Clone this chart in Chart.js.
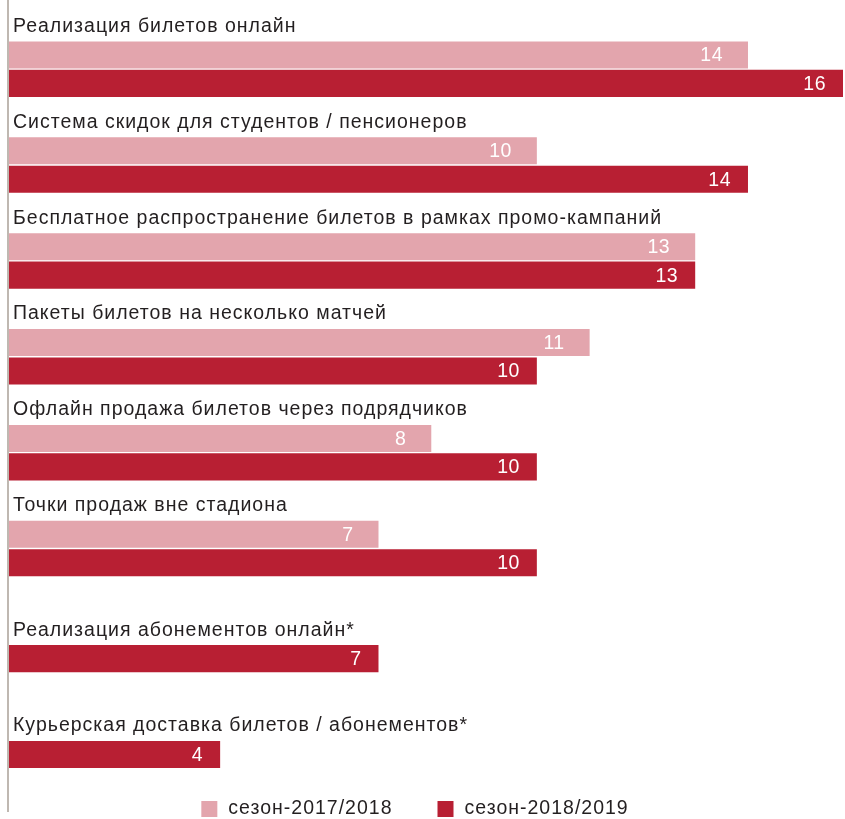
<!DOCTYPE html>
<html lang="ru">
<head>
<meta charset="utf-8">
<title>Способы продажи билетов</title>
<script src="https://cdn.jsdelivr.net/npm/chart.js@4.4.1/dist/chart.umd.min.js"></script>
<style>
    html, body { margin: 0; padding: 0; background: #fff; }
    #wrap { position: relative; width: 845px; height: 819px; }
</style>
</head>
<body>
<div id="wrap"><canvas id="ticketsChart"></canvas></div>
<script>
// Способы реализации билетов, количество клубов
const categories = [
    'Реализация билетов онлайн',
    'Система скидок для студентов / пенсионеров',
    'Бесплатное распространение билетов в рамках промо-кампаний',
    'Пакеты билетов на несколько матчей',
    'Офлайн продажа билетов через подрядчиков',
    'Точки продаж вне стадиона',
    'Реализация абонементов онлайн*',
    'Курьерская доставка билетов / абонементов*'
];
const season1718 = [14, 10, 13, 11, 8, 7, null, null];
const season1819 = [16, 14, 13, 10, 10, 10, 7, 4];
const seriesNames = ['сезон-2017/2018', 'сезон-2018/2019'];

const PINK = '#e3a5ad';
const RED = '#b81f33';
const TEXT = '#231f20';
const FONT = '"Liberation Sans", Arial, Helvetica, sans-serif';
const CAT_PCT = 0.89;

// подписи групп над столбцами, значения внутри столбцов, ось и легенда
const labelsPlugin = {
    id: 'labelsPlugin',
    afterDatasetsDraw(chart) {
        const { ctx, chartArea, scales: { y } } = chart;
        const slot = (y.height / categories.length) * CAT_PCT / 3;

        ctx.save();
        ctx.font = '19.5px ' + FONT;
        ctx.letterSpacing = '1px';
        ctx.fillStyle = TEXT;
        ctx.textAlign = 'left';
        ctx.textBaseline = 'middle';
        categories.forEach((name, i) => {
            const center = y.getPixelForValue(i);
            const ty = season1718[i] == null ? center : center - slot;
            ctx.fillText(name, chartArea.left + 4, ty);
        });

        // значения
        ctx.font = '19.5px ' + FONT;
        ctx.letterSpacing = '0.5px';
        ctx.fillStyle = '#fff';
        ctx.textAlign = 'right';
        [[1, season1718, 25], [2, season1819, 17]].forEach(([dsIndex, values, pad]) => {
            const meta = chart.getDatasetMeta(dsIndex);
            values.forEach((v, i) => {
                if (v == null) return;
                const bar = meta.data[i];
                const x = Math.min(bar.x, chartArea.right) - pad;
                ctx.fillText(String(v), x, bar.y + 1);
            });
        });
        ctx.restore();
    },
    afterDraw(chart) {
        const { ctx, chartArea, height } = chart;
        ctx.save();
        // вертикальная ось
        ctx.strokeStyle = '#aaa197';
        ctx.lineWidth = 1.5;
        ctx.beginPath();
        ctx.moveTo(chartArea.left - 1, 0);
        ctx.lineTo(chartArea.left - 1, height - 7);
        ctx.stroke();

        // легенда
        ctx.font = '19.5px ' + FONT;
        ctx.letterSpacing = '1px';
        ctx.textBaseline = 'middle';
        ctx.textAlign = 'left';
        const colors = [PINK, RED];
        const box = 16, gapText = 11, gapItem = 45;
        const widths = seriesNames.map(t => box + gapText + ctx.measureText(t).width);
        const total = widths[0] + widths[1] + gapItem;
        let x = (chartArea.left + chartArea.right) / 2 - total / 2 - 11;
        const ly = height - 10;
        seriesNames.forEach((t, i) => {
            ctx.fillStyle = colors[i];
            ctx.fillRect(x, ly - box / 2, box, box);
            ctx.fillStyle = TEXT;
            ctx.fillText(t, x + box + gapText, ly);
            x += widths[i] + gapItem;
        });
        ctx.restore();
    }
};

new Chart(document.getElementById('ticketsChart'), {
    type: 'bar',
    data: {
        labels: categories,
        datasets: [
            { label: '', data: categories.map(() => null), backgroundColor: 'rgba(0,0,0,0)' },
            { label: seriesNames[0], data: season1718, backgroundColor: PINK },
            { label: seriesNames[1], data: season1819, backgroundColor: RED }
        ]
    },
    options: {
        indexAxis: 'y',
        responsive: true,
        maintainAspectRatio: false,
        animation: false,
        layout: { padding: { left: 9, right: 2, top: 7, bottom: 45 } },
        datasets: {
            bar: { categoryPercentage: CAT_PCT, barPercentage: 0.95, skipNull: false }
        },
        scales: {
            x: { display: false, min: 0, max: 15.8 },
            y: { display: false }
        },
        plugins: {
            legend: { display: false },
            tooltip: { enabled: false }
        }
    },
    plugins: [labelsPlugin]
});
</script>
</body>
</html>
